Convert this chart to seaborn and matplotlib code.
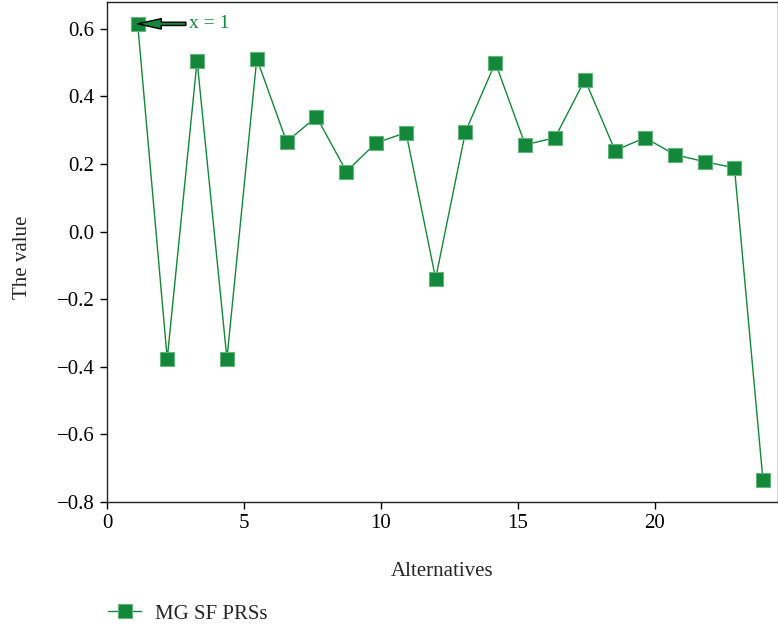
import matplotlib
matplotlib.use("Agg")
import matplotlib.pyplot as plt
import seaborn as sns
import pandas as pd

x_vals = [1.12, 2.2, 3.29, 4.38, 5.47, 6.56, 7.65, 8.74, 9.83, 10.92, 12.0,
          13.09, 14.18, 15.27, 16.36, 17.45, 18.55, 19.64, 20.73, 21.82, 22.91, 23.95]
y_vals = [0.615, -0.376, 0.506, -0.376, 0.512, 0.266, 0.340, 0.178, 0.263, 0.293, -0.139,
          0.296, 0.500, 0.257, 0.278, 0.450, 0.240, 0.278, 0.228, 0.207, 0.189, -0.734]
series_name = "MG SF PRSs"
x_ticks = [0, 5, 10, 15, 20]
y_ticks = [-0.8, -0.6, -0.4, -0.2, 0.0, 0.2, 0.4, 0.6]

df = pd.DataFrame({"x": x_vals, "y": y_vals, "series": series_name})

sns.set_style("ticks")
plt.rcParams["font.family"] = ["Liberation Serif", "DejaVu Serif"]
plt.rcParams["axes.unicode_minus"] = True

color = "#13873a"
fig = plt.figure(figsize=(7.78, 6.29), dpi=100)
ax = fig.add_axes([0.1375, 0.202, 0.8625, 0.795])

sns.lineplot(data=df, x="x", y="y", hue="series", palette=[color], marker="s",
             markersize=10, markeredgecolor="#5fb57a", markeredgewidth=0.8,
             linewidth=1.0, ax=ax)

ax.set_xlim(0, 24.5)
ax.set_ylim(-0.8, 0.68)
ax.set_xticks(x_ticks)
ax.set_yticks(y_ticks)
ax.set_yticklabels([f"{v:.1f}".replace("-", "\u2212") for v in y_ticks])
ax.tick_params(axis="both", labelsize=15, direction="out", length=5, width=1,
               colors="black", pad=4)
ax.set_xlabel("Alternatives", fontsize=15)
ax.set_ylabel("The value", fontsize=15)
ax.xaxis.set_label_coords(0.5, -0.121)
ax.yaxis.set_label_coords(-0.112, 0.49)
for s in ax.spines.values():
    s.set_linewidth(1.0)
    s.set_color("#222222")

ax.annotate("x = 1", xy=(x_vals[0], y_vals[0]), xytext=(3.0, y_vals[0]),
            fontsize=14, color=color, va="center", ha="left",
            arrowprops=dict(facecolor=color, edgecolor="black", width=2.4, headwidth=7.5,
                            headlength=17, shrink=0.0, linewidth=1))

leg = ax.legend(loc="center left", bbox_to_anchor=(0.1388, 0.024),
                bbox_transform=fig.transFigure, frameon=False, borderpad=0,
                borderaxespad=0, fontsize=15, handlelength=1.6, handletextpad=0.65)

fig.savefig("out.png", dpi=100)
